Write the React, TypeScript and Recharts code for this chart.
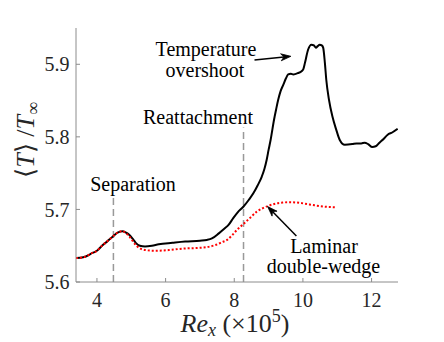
import React from "react";
import {
  LineChart,
  Line,
  XAxis,
  YAxis,
  ReferenceLine,
} from "recharts";

// Re_x (x1e5) and <T>/T_inf
const turbX = [
  3.39, 3.6, 3.87, 4.0, 4.17, 4.3, 4.48, 4.6, 4.74, 4.85, 4.94, 5.05, 5.13, 5.25, 5.4,
  5.6, 5.8, 6.2, 6.57, 7.0, 7.2, 7.35, 7.55, 7.7, 7.84, 7.97, 8.1, 8.27, 8.42, 8.56,
  8.68, 8.8, 8.88, 8.945, 9.0, 9.06, 9.16, 9.22, 9.28, 9.35, 9.43, 9.5, 9.57, 9.65,
  9.72, 9.86, 9.96, 10.01, 10.06, 10.15, 10.25, 10.32, 10.38, 10.43, 10.49, 10.55,
  10.59, 10.64, 10.68, 10.76, 10.86, 10.97, 11.07, 11.22, 11.44, 11.56, 11.7, 11.8,
  11.9, 12.02, 12.12, 12.23, 12.35, 12.47, 12.6, 12.76,
];
const turbT = [
  5.633, 5.634, 5.64, 5.643, 5.651, 5.656, 5.6635, 5.668, 5.67, 5.668, 5.665, 5.659,
  5.654, 5.65, 5.649, 5.65, 5.652, 5.654, 5.6557, 5.657, 5.658, 5.66, 5.667, 5.673,
  5.679, 5.688, 5.696, 5.704, 5.713, 5.7225, 5.733, 5.745, 5.756, 5.7685, 5.782,
  5.796, 5.824, 5.838, 5.851, 5.863, 5.872, 5.88, 5.886, 5.887, 5.886, 5.888, 5.8905,
  5.893, 5.902, 5.92, 5.927, 5.926, 5.9228, 5.925, 5.927, 5.926, 5.923, 5.902, 5.879,
  5.851, 5.828, 5.81, 5.796, 5.789, 5.79, 5.791, 5.791, 5.792, 5.79, 5.786, 5.787,
  5.792, 5.797, 5.803, 5.806, 5.811,
];

const lamX = [
  3.39, 3.6, 3.87, 4.0, 4.17, 4.3, 4.48, 4.6, 4.74, 4.85, 4.94, 5.05, 5.15, 5.23, 5.41,
  5.7, 6.1, 6.5, 6.97, 7.2, 7.45, 7.65, 7.79, 7.93, 8.08, 8.27, 8.45, 8.66, 8.8, 9.0,
  9.2, 9.43, 9.6, 9.82, 10.05, 10.3, 10.6, 10.93,
];
const lamT = [
  5.633, 5.634, 5.64, 5.643, 5.651, 5.656, 5.6635, 5.668, 5.67, 5.667, 5.663, 5.656,
  5.65, 5.647, 5.644, 5.643, 5.644, 5.646, 5.647, 5.648, 5.651, 5.655, 5.658, 5.664,
  5.672, 5.68, 5.688, 5.697, 5.701, 5.705, 5.708, 5.7095, 5.71, 5.7095, 5.708, 5.706,
  5.704, 5.703,
];

const xTicks = [4, 6, 8, 10, 12];
const yTicks = [5.6, 5.7, 5.8, 5.9];
const xDomain = [3.39, 12.77];
const yDomain = [5.6, 5.95];

// separation / reattachment markers: [x, top y]
const sepLine = [4.48, 5.716];
const reatLine = [8.27, 5.813];

// annotation arrows: [tailX, tailY, headX, headY]
const overshootArrow = [8.59, 5.906, 9.65, 5.911];
const laminarArrow = [9.81, 5.6635, 8.97, 5.704];

const turb = turbX.map((x, i) => ({ x, t: turbT[i] }));
const lam = lamX.map((x, i) => ({ x, t: lamT[i] }));

const FONT = "Liberation Serif";
const AXIS = "#8c8c8c";
const INK = "#262626";

function Arrow(props: any) {
  const { x1, y1, x2, y2 } = props;
  const ang = Math.atan2(y2 - y1, x2 - x1);
  const L = 10;
  const W = 3.5;
  const bx = x2 - L * Math.cos(ang);
  const by = y2 - L * Math.sin(ang);
  const nx = -Math.sin(ang);
  const ny = Math.cos(ang);
  const ix = x2 - 0.7 * L * Math.cos(ang);
  const iy = y2 - 0.7 * L * Math.sin(ang);
  return (
    <g>
      <line x1={x1} y1={y1} x2={ix} y2={iy} stroke="#000" strokeWidth={1.5} />
      <path
        d={`M${x2},${y2} L${bx + nx * W},${by + ny * W} L${ix},${iy} L${bx - nx * W},${by - ny * W} Z`}
        fill="#000"
        stroke="#000"
        strokeWidth={0.8}
      />
    </g>
  );
}

const hidden = () => <g />;

function Txt({ x, y, children, size = 20 }: any) {
  return (
    <text x={x} y={y} fontFamily={FONT} fontSize={size} fill="#000" textAnchor="middle">
      {children}
    </text>
  );
}

export default function App() {
  return (
    <div style={{ position: "absolute", left: 0, top: 0, width: 444, height: 342, background: "#fff" }}>
      <LineChart width={444} height={342} margin={{ top: 28, right: 46, left: 0, bottom: 0 }}>
        <XAxis
          xAxisId="b"
          dataKey="x"
          type="number"
          domain={xDomain}
          ticks={xTicks}
          allowDataOverflow
          height={60}
          stroke={AXIS}
          tickSize={-4}
          tickMargin={14.5}
          tick={{ fill: INK, fontSize: 20, fontFamily: FONT }}
        />
        <XAxis
          xAxisId="t"
          orientation="top"
          dataKey="x"
          type="number"
          domain={xDomain}
          ticks={xTicks}
          allowDataOverflow
          height={0}
          stroke={AXIS}
          tickSize={-4}
          tick={hidden}
        />
        <YAxis
          yAxisId="l"
          type="number"
          domain={yDomain}
          ticks={yTicks}
          allowDataOverflow
          width={76}
          stroke={AXIS}
          tickSize={-4}
          tickMargin={10.5}
          tickFormatter={(v) => v.toFixed(1)}
          tick={{ fill: INK, fontSize: 20, fontFamily: FONT }}
        />
        <YAxis
          yAxisId="r"
          orientation="right"
          type="number"
          domain={yDomain}
          ticks={yTicks}
          allowDataOverflow
          width={0}
          stroke={AXIS}
          tickSize={-4}
          tick={hidden}
        />
        <ReferenceLine
          xAxisId="b"
          yAxisId="l"
          segment={[{ x: sepLine[0], y: yDomain[0] }, { x: sepLine[0], y: sepLine[1] }]}
          stroke="#999"
          strokeWidth={1.5}
          strokeDasharray="7 4"
        />
        <ReferenceLine
          xAxisId="b"
          yAxisId="l"
          segment={[{ x: reatLine[0], y: yDomain[0] }, { x: reatLine[0], y: reatLine[1] }]}
          stroke="#999"
          strokeWidth={1.5}
          strokeDasharray="7 4"
        />
        <Line
          xAxisId="b"
          yAxisId="l"
          data={turb}
          dataKey="t"
          type="monotone"
          stroke="#000"
          strokeWidth={2}
          dot={false}
          isAnimationActive={false}
        />
        <Line
          xAxisId="b"
          yAxisId="l"
          data={lam}
          dataKey="t"
          type="monotone"
          stroke="#ff0000"
          strokeWidth={2}
          strokeDasharray="2 2"
          dot={false}
          isAnimationActive={false}
        />
        <ReferenceLine
          xAxisId="b"
          yAxisId="l"
          segment={[
            { x: overshootArrow[0], y: overshootArrow[1] },
            { x: overshootArrow[2], y: overshootArrow[3] },
          ]}
          shape={Arrow}
        />
        <ReferenceLine
          xAxisId="b"
          yAxisId="l"
          segment={[
            { x: laminarArrow[0], y: laminarArrow[1] },
            { x: laminarArrow[2], y: laminarArrow[3] },
          ]}
          shape={Arrow}
        />
      </LineChart>
      <svg width={444} height={342} style={{ position: "absolute", left: 0, top: 0, pointerEvents: "none" }}>
        <Txt x={206} y={56}>Temperature</Txt>
        <Txt x={205} y={76.5}>overshoot</Txt>
        <Txt x={198} y={124}>Reattachment</Txt>
        <Txt x={133} y={191}>Separation</Txt>
        <Txt x={324} y={253}>Laminar</Txt>
        <Txt x={323.5} y={273}>double-wedge</Txt>
        <text x={235} y={332} fontFamily={FONT} fontSize={26} fill={INK} textAnchor="middle">
          <tspan fontStyle="italic">Re</tspan>
          <tspan fontStyle="italic" fontSize={18} dy={4}>x</tspan>
          <tspan dy={-4}> (×10</tspan>
          <tspan fontSize={18} dy={-10}>5</tspan>
          <tspan dy={10}>)</tspan>
        </text>
        <text
          x={34}
          y={140}
          fontFamily={FONT}
          fontSize={26}
          fill={INK}
          textAnchor="middle"
          transform="rotate(-90 34 140)"
        >
          <tspan>⟨</tspan>
          <tspan fontStyle="italic">T</tspan>
          <tspan>⟩ /</tspan>
          <tspan fontStyle="italic">T</tspan>
          <tspan fontSize={18} dy={5}>∞</tspan>
        </text>
      </svg>
    </div>
  );
}
